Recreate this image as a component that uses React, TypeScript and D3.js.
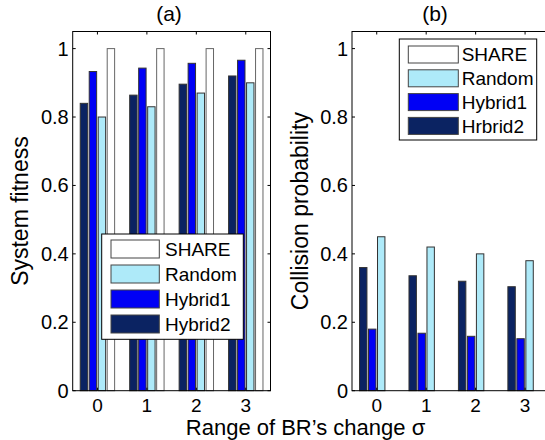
import React from "react";
import * as d3 from "d3";

const categories = [0, 1, 2, 3];
const seriesNames = ["Hybrid2", "Hybrid1", "Random", "SHARE"];
const fitnessHybrid2 = [0.84, 0.864, 0.896, 0.92];
const fitnessHybrid1 = [0.933, 0.943, 0.957, 0.966];
const fitnessRandom = [0.8, 0.83, 0.87, 0.9];
const fitnessShare = [1, 1, 1, 1];
const collHybrid2 = [0.36, 0.336, 0.32, 0.304];
const collHybrid1 = [0.18, 0.168, 0.159, 0.152];
const collRandom = [0.45, 0.42, 0.4, 0.38];
const collShare = [0, 0, 0, 0];
const yTicks = [0, 0.2, 0.4, 0.6, 0.8, 1];
const legendA = ["SHARE", "Random", "Hybrid1", "Hybrid2"];
const legendB = ["SHARE", "Random", "Hybrid1", "Hrbrid2"];

const colors: Record<string, string> = {
  Hybrid2: "#0b2362",
  Hybrid1: "#0000f5",
  Random: "#aeeaf9",
  SHARE: "#ffffff",
  Hrbrid2: "#0b2362",
};

const FONT = "'Liberation Sans', Arial, sans-serif";
const TOP = 31.5;
const BOTTOM = 390.7;

function Panel({ left, right, data, title, titleX, yLabel, yLabelX, legend, legendBox, showRight }: any) {
  const x = d3.scaleLinear().domain([-0.5, 3.5]).range([left, right]);
  const y = d3.scaleLinear().domain([0, 1.05]).range([BOTTOM, TOP]);
  const slot = 0.1818;
  const bw = 0.15;
  const fmt = (v: number) => (v === 0 ? "0" : v === 1 ? "1" : d3.format(".1f")(v));
  const tl = 3;
  return (
    <g>
      {data.map((vals: number[], si: number) =>
        categories.map((c, ci) => {
          const cx = c + (si - 1.5) * slot;
          const x0 = x(cx - bw / 2);
          const x1 = x(cx + bw / 2);
          const v = vals[ci];
          if (v <= 0) return null;
          return (
            <rect
              key={si + "-" + ci}
              x={x0}
              y={y(v)}
              width={x1 - x0}
              height={y(0) - y(v)}
              fill={colors[seriesNames[si]]}
              stroke={si === 3 ? "#666" : "#333"}
              strokeWidth={1}
            />
          );
        })
      )}
      <rect x={left} y={TOP} width={right - left} height={BOTTOM - TOP} fill="none" stroke="#000" strokeWidth={1} />
      {yTicks.map((t) => (
        <g key={"yt" + t}>
          <line x1={left} x2={left + tl} y1={y(t)} y2={y(t)} stroke="#000" />
          {showRight && <line x1={right} x2={right - tl} y1={y(t)} y2={y(t)} stroke="#000" />}
          <text x={left - 4} y={y(t)} dy="0.35em" textAnchor="end" fontSize={20} fontFamily={FONT}>
            {fmt(t)}
          </text>
        </g>
      ))}
      {categories.map((c) => (
        <g key={"xt" + c}>
          <line x1={x(c)} x2={x(c)} y1={TOP} y2={TOP + tl} stroke="#000" />
          <line x1={x(c)} x2={x(c)} y1={BOTTOM} y2={BOTTOM - tl} stroke="#000" />
          <text x={x(c)} y={BOTTOM + 20.8} textAnchor="middle" fontSize={19} fontFamily={FONT}>
            {c}
          </text>
        </g>
      ))}
      <text x={titleX} y={21} textAnchor="middle" fontSize={21} fontFamily={FONT}>
        {title}
      </text>
      <text
        transform={`translate(${yLabelX},${(TOP + BOTTOM) / 2}) rotate(-90)`}
        textAnchor="middle"
        fontSize={23}
        fontFamily={FONT}
      >
        {yLabel}
      </text>
      <rect
        x={legendBox.x0}
        y={legendBox.y0}
        width={legendBox.x1 - legendBox.x0}
        height={legendBox.y1 - legendBox.y0}
        fill="#fff"
        stroke="#000"
        strokeWidth={1}
      />
      {legend.map((name: string, i: number) => {
        const cy = legendBox.r0 + i * legendBox.dr;
        return (
          <g key={"lg" + name}>
            <rect
              x={legendBox.sx0}
              y={cy - legendBox.sh / 2}
              width={legendBox.sx1 - legendBox.sx0}
              height={legendBox.sh}
              fill={colors[name]}
              stroke="#444"
              strokeWidth={1}
            />
            <text x={legendBox.tx} y={cy} dy="0.35em" fontSize={19} fontFamily={FONT}>
              {name}
            </text>
          </g>
        );
      })}
    </g>
  );
}

export default function App() {
  return (
    <svg
      width={545}
      height={440}
      style={{ position: "fixed", left: 0, top: 0, background: "#fff" }}
    >
      <rect x={0} y={0} width={545} height={440} fill="#fff" />
      <Panel
        left={72.7}
        right={270.5}
        data={[fitnessHybrid2, fitnessHybrid1, fitnessRandom, fitnessShare]}
        title="(a)"
        titleX={169}
        yLabel="System fitness"
        yLabelX={28}
        legend={legendA}
        showRight={true}
        legendBox={{ x0: 101.7, x1: 243.3, y0: 234, y1: 339.3, r0: 249, dr: 25, sx0: 111, sx1: 159.3, sh: 18, tx: 165 }}
      />
      <Panel
        left={352}
        right={549.8}
        data={[collHybrid2, collHybrid1, collRandom, collShare]}
        title="(b)"
        titleX={435}
        yLabel="Collision probability"
        yLabelX={308}
        legend={legendB}
        showRight={true}
        legendBox={{ x0: 399.3, x1: 536.7, y0: 39, y1: 140, r0: 54.5, dr: 23.8, sx0: 408.3, sx1: 458.3, sh: 17, tx: 461.7 }}
      />
      <text x={305.5} y={434.5} textAnchor="middle" fontSize={22} fontFamily={FONT}>
        Range of BR’s change σ
      </text>
    </svg>
  );
}
